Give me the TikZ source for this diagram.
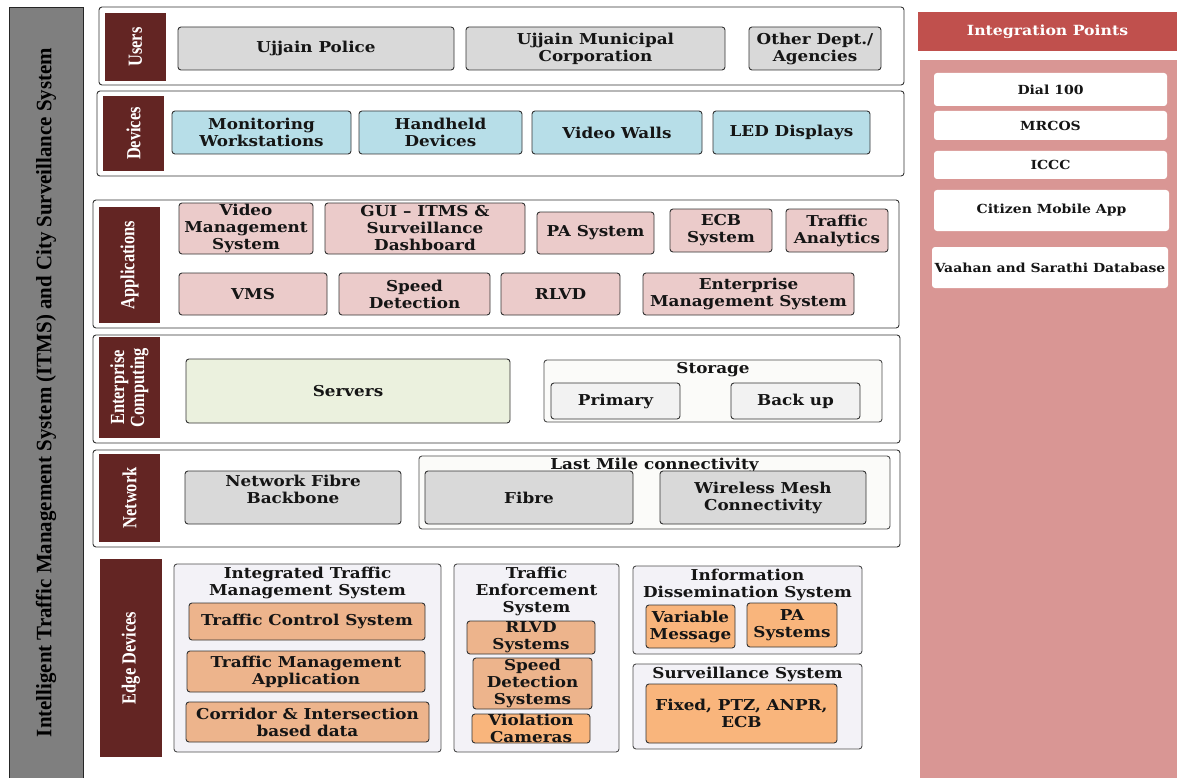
\documentclass[tikz,border=0pt]{standalone}
\usepackage{fontspec}
\newfontfamily\boxfnt[FakeStretch=1.12]{DejaVu Serif}
\newfontfamily\labfnt[FakeStretch=0.82]{Liberation Serif}
\newfontfamily\barfnt[FakeStretch=0.95]{Liberation Serif}
\definecolor{barg}{HTML}{7F7F7F}
\definecolor{labred}{HTML}{632523}
\definecolor{gfill}{HTML}{D9D9D9}
\definecolor{bfill}{HTML}{B7DEE8}
\definecolor{pfill}{HTML}{EBCBCA}
\definecolor{sfill}{HTML}{EBF1DE}
\definecolor{wfill}{HTML}{FBFBF9}
\definecolor{lfill}{HTML}{F2F2F2}
\definecolor{efill}{HTML}{F3F2F7}
\definecolor{ofill}{HTML}{EDB48C}
\definecolor{ofill2}{HTML}{F9B57C}
\definecolor{ihead}{HTML}{C0504D}
\definecolor{ipink}{HTML}{D99694}
\definecolor{tcol}{HTML}{151515}
\newcommand\mypanel[6]{\node[#2, minimum width={#5-#3}, minimum height={#6-#4}, inner sep=0pt] (#1) at ({(#3+#5)/2},{(#4+#6)/2}) {};}
\newcommand\mybox[8]{\mypanel{#1}{#2}{#4}{#5}{#6}{#7}\node[#3] (#1-t) at (#1.center) {#8};}
\begin{document}
\begin{tikzpicture}[x=1pt,y=-1pt,
  barbox/.style={rectangle, fill=barg, draw=black!85, line width=0.9pt},
  bartxt/.style={rotate=90, font=\barfnt\bfseries\fontsize{22}{24}\selectfont, text=black, inner sep=0pt},
  panel/.style={rectangle, fill=white, draw=black!80, line width=0.9pt, rounded corners=3pt},
  lab/.style={rectangle, fill=labred, draw=none},
  labt/.style={rotate=90, font=\labfnt\bfseries\fontsize{20}{20}\selectfont, text=white, align=center, inner sep=0pt},
  bx/.style={rectangle, draw=black!80, line width=0.9pt, rounded corners=3pt},
  gbox/.style={bx, fill=gfill},
  bbox/.style={bx, fill=bfill},
  pbox/.style={bx, fill=pfill},
  sbox/.style={bx, fill=sfill},
  wbox/.style={bx, fill=wfill, draw=black!70},
  lbox/.style={bx, fill=lfill},
  ebox/.style={bx, fill=efill, draw=black!70},
  obox/.style={bx, fill=ofill},
  obox2/.style={bx, fill=ofill2},
  t/.style={font=\boxfnt\bfseries\fontsize{15}{17}\selectfont, text=tcol, align=center, inner sep=0pt},
  it/.style={font=\boxfnt\bfseries\fontsize{12.5}{14}\selectfont, text=tcol, align=center, inner sep=0pt},
  ibox/.style={rectangle, fill=white, draw=none, rounded corners=3pt},
]
\useasboundingbox (0,0) rectangle (1177,778);

% left bar
\mypanel{bar}{barbox}{9}{7}{83}{800}
\node[bartxt] (bar-t) at ([yshift=11pt]bar.center) {Intelligent Traffic Management System (ITMS) and City Surveillance System};

% Users
\mypanel{upan}{panel}{99}{7}{904}{85}
\mybox{ulab}{lab}{labt}{105}{13}{166}{81}{Users}
\mybox{police}{gbox}{t}{178}{27}{454}{70}{Ujjain Police}
\mybox{umc}{gbox}{t}{466}{27}{725}{70}{Ujjain Municipal\\Corporation}
\mybox{other}{gbox}{t}{749}{27}{881}{70}{Other Dept./\\Agencies}

% Devices
\mypanel{dpan}{panel}{97}{91}{904}{176}
\mybox{dlab}{lab}{labt}{103}{96}{164}{171}{Devices}
\mybox{mw}{bbox}{t}{172}{111}{351}{154}{Monitoring\\Workstations}
\mybox{hh}{bbox}{t}{359}{111}{522}{154}{Handheld\\Devices}
\mybox{vw}{bbox}{t}{532}{111}{702}{154}{Video Walls}
\mybox{led}{bbox}{t}{713}{111}{870}{154}{LED Displays}

% Applications
\mypanel{apan}{panel}{93}{200}{899}{328}
\mybox{alab}{lab}{labt}{99}{207}{160}{323}{Applications}
\mybox{vmsys}{pbox}{t}{179}{203}{313}{254}{Video\\Management\\System}
\mybox{gui}{pbox}{t}{325}{203}{525}{254}{GUI – ITMS \&\\Surveillance\\Dashboard}
\mybox{pa}{pbox}{t}{537}{212}{654}{254}{PA System}
\mybox{ecb}{pbox}{t}{670}{209}{772}{252}{ECB\\System}
\mybox{ta}{pbox}{t}{786}{209}{888}{252}{Traffic\\Analytics}
\mybox{vms}{pbox}{t}{179}{273}{327}{315}{VMS}
\mybox{sd}{pbox}{t}{339}{273}{490}{315}{Speed\\Detection}
\mybox{rlvd}{pbox}{t}{501}{273}{620}{315}{RLVD}
\mybox{ems}{pbox}{t}{643}{273}{854}{315}{Enterprise\\Management System}

% Enterprise computing
\mypanel{epan}{panel}{93}{335}{900}{443}
\mybox{elab}{lab}{labt}{99}{337}{160}{438}{Enterprise\\Computing}
\mybox{srv}{sbox}{t}{186}{359}{510}{423}{Servers}
\mypanel{stor}{wbox}{544}{360}{882}{422}
\node[t, anchor=north] (stor-title) at ([yshift=-3pt]stor.north) {Storage};
\mybox{prim}{lbox}{t}{551}{383}{680}{419}{Primary}
\mybox{back}{lbox}{t}{731}{383}{860}{419}{Back up}

% Network
\mypanel{npan}{panel}{93}{450}{900}{547}
\mybox{nlab}{lab}{labt}{99}{454}{160}{542}{Network}
\mybox{nfb}{gbox}{t, yshift=8pt}{185}{471}{401}{524}{Network Fibre\\Backbone}
\mypanel{lm}{wbox}{419}{456}{890}{529}
\node[t, anchor=north] (lm-title) at ([yshift=-2pt]lm.north) {Last Mile connectivity};
\mybox{fib}{gbox}{t}{425}{471}{633}{524}{Fibre}
\mybox{wm}{gbox}{t}{660}{471}{866}{524}{Wireless Mesh\\Connectivity}

% Edge devices
\mybox{edlab}{lab}{labt}{100}{559}{162}{757}{Edge Devices}
\mypanel{itms}{ebox}{174}{564}{441}{752}
\node[t, anchor=north] (itms-title) at ([yshift=-3pt]itms.north) {Integrated Traffic\\Management System};
\mybox{tcs}{obox}{t}{189}{603}{425}{640}{Traffic Control System}
\mybox{tma}{obox}{t}{187}{651}{425}{692}{Traffic Management\\Application}
\mybox{cor}{obox}{t}{186}{702}{429}{742}{Corridor \& Intersection\\based data}

\mypanel{tes}{ebox}{454}{564}{619}{752}
\node[t, anchor=north] (tes-title) at ([yshift=-3pt]tes.north) {Traffic\\Enforcement\\System};
\mybox{rlvds}{obox}{t}{467}{621}{595}{654}{RLVD\\Systems}
\mybox{sds}{obox}{t}{473}{658}{592}{709}{Speed\\Detection\\Systems}
\mybox{vc}{obox2}{t}{472}{714}{590}{743}{Violation\\Cameras}

\mypanel{ids}{ebox}{633}{566}{862}{654}
\node[t, anchor=north] (ids-title) at ([yshift=-3pt]ids.north) {Information\\Dissemination System};
\mybox{vm}{obox2}{t}{646}{605}{735}{648}{Variable\\Message}
\mybox{pas}{obox2}{t}{747}{603}{837}{647}{PA\\Systems}

\mypanel{ss}{ebox}{633}{664}{862}{749}
\node[t, anchor=north] (ss-title) at ([yshift=-3pt]ss.north) {Surveillance System};
\mybox{fix}{obox2}{t}{646}{684}{837}{743}{Fixed, PTZ, ANPR,\\ECB}

% Integration points
\mybox{ihd}{rectangle, fill=ihead, draw=none}{it, text=white, font=\boxfnt\bfseries\fontsize{14}{16}\selectfont}{918}{12}{1177}{51}{Integration Points}
\mypanel{ipan}{rectangle, fill=ipink, draw=none}{920}{60}{1180}{790}
\mybox{dial}{ibox}{it}{934}{73}{1167}{106}{Dial 100}
\mybox{mrcos}{ibox}{it}{934}{111}{1167}{140}{MRCOS}
\mybox{iccc}{ibox}{it}{934}{151}{1167}{179}{ICCC}
\mybox{cma}{ibox}{it}{934}{190}{1169}{231}{Citizen Mobile App}
\mybox{vsd}{ibox}{it}{932}{247}{1168}{288}{Vaahan and Sarathi Database}
\end{tikzpicture}
\end{document}
